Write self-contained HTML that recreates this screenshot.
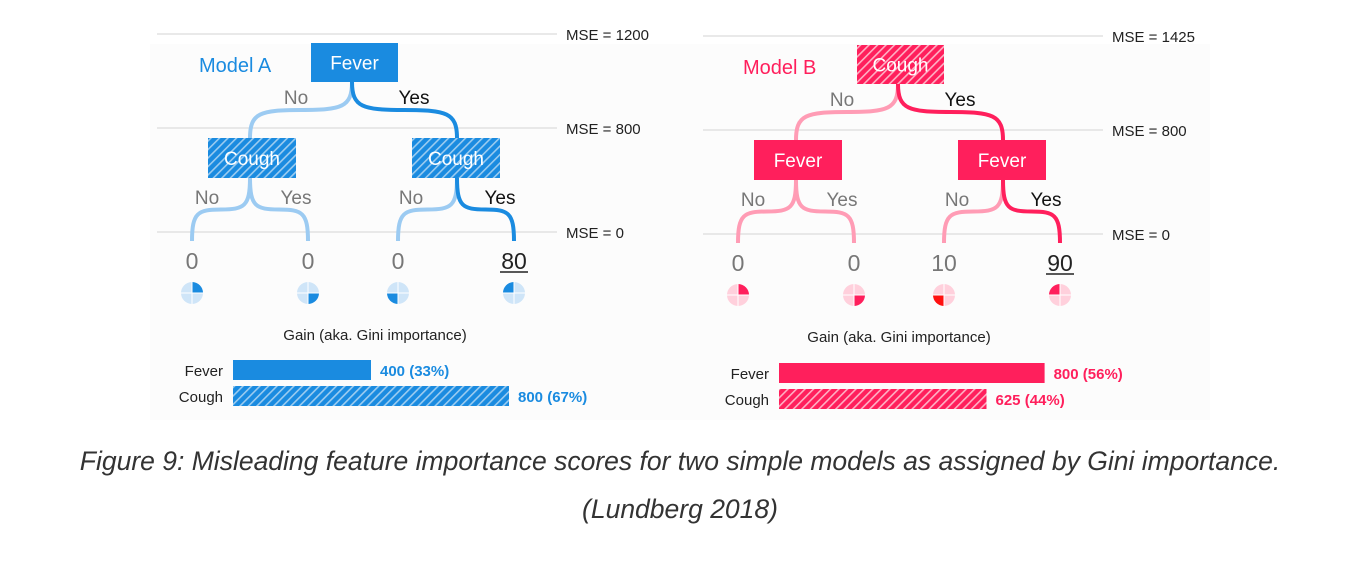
<!DOCTYPE html>
<html><head><meta charset="utf-8"><style>
html,body{margin:0;padding:0;background:#fff;}
body{width:1360px;height:564px;overflow:hidden;position:relative;font-family:"Liberation Sans",sans-serif;}
.cap{position:absolute;left:0;width:1360px;text-align:center;font-style:italic;font-size:26.5px;color:#333;}
</style></head><body>
<svg id="fig" width="1360" height="440" style="position:absolute;left:0;top:0" xmlns="http://www.w3.org/2000/svg">
<defs>
<pattern id="hatchA" patternUnits="userSpaceOnUse" width="6" height="6" patternTransform="rotate(45)"><rect width="6" height="6" fill="#1a8be0"/><rect width="1.6" height="6" fill="#9cccf0"/></pattern>
<pattern id="hatchB" patternUnits="userSpaceOnUse" width="6" height="6" patternTransform="rotate(45)"><rect width="6" height="6" fill="#ff1f5c"/><rect width="1.6" height="6" fill="#ffb0c4"/></pattern>
</defs>
<rect x="150" y="44" width="1060" height="376" fill="#fcfcfc"/>
</svg>
<div class="cap" style="top:446px">Figure 9: Misleading feature importance scores for two simple models as assigned by Gini importance.</div>
<div class="cap" style="top:494px">(Lundberg 2018)</div>
<script>
// data
const modelNames = ["Model A", "Model B"];
const mseLevelsA = [1200, 800, 0];
const mseLevelsB = [1425, 800, 0];
const rootFeature = ["Fever", "Cough"];
const childFeature = ["Cough", "Fever"];
const leafValuesA = [0, 0, 0, 80];
const leafValuesB = [0, 0, 10, 90];
const gainFeatures = ["Fever", "Cough"];
const gainValuesA = [400, 800];
const gainPctA = [33, 67];
const gainValuesB = [800, 625];
const gainPctB = [56, 44];

const NS = "http://www.w3.org/2000/svg";
const svg = document.getElementById('fig');
function mk(tag, attrs, parent){const e=document.createElementNS(NS,tag);for(const k in attrs)e.setAttribute(k,attrs[k]);(parent||svg).appendChild(e);return e;}
function txt(s, attrs, parent){const e=mk('text',attrs,parent);e.textContent=s;return e;}

const models=[
 {ox:0, name:modelNames[0], mse:mseLevelsA, leaves:leafValuesA, gains:gainValuesA, pct:gainPctA, dark:"#1a8be0", light:"#9ccbf2", pale:"#cfe5f8", hatch:"url(#hatchA)", rootHatch:false, childHatch:true, scale:0.345, strong:"#1a8be0", pieBL:"#1a8be0"},
 {ox:546, name:modelNames[1], mse:mseLevelsB, leaves:leafValuesB, gains:gainValuesB, pct:gainPctB, dark:"#ff1f5c", light:"#ff9cb5", pale:"#ffd0dc", hatch:"url(#hatchB)", rootHatch:true, childHatch:false, scale:0.332, strong:"#ff1f5c", pieBL:"#ff1010"}
];
const mseY=[34,128,232];
models.forEach((m,mi)=>{
  const g=mk('g',{transform:`translate(${m.ox},${mi?2:0})`});
  
  
  m.mse.forEach((v,i)=>{
    const l=mk('line',{x1:157,x2:557,y1:mseY[i],y2:mseY[i],stroke:"#dcdcdc","stroke-width":1.3},g);
    
    
    const t=txt('MSE = '+v,{x:566,y:mseY[i]+6,"font-size":15,fill:"#222"},g);
    
    
  });
  const mt=txt(m.name,{x:mi?197:199,y:72,"font-size":20,fill:m.dark},g);
  
  
  const rootX=352, lX=250, rX=457, leafX=[192,308,398,514];
  const edges=[
    [rootX,82,lX,138,m.light],[rootX,82,rX,138,m.dark],
    [lX,178,leafX[0],241,m.light],[lX,178,leafX[1],241,m.light],
    [rX,178,leafX[2],241,m.light],[rX,178,leafX[3],241,m.dark]];
  edges.forEach(e=>{
    const [x1,y1,x2,y2,c]=e, my=(y1+y2)/2, h=(y2-y1);
    const p=mk('path',{d:`M${x1},${y1} C${x1},${y1+h*0.45} ${x1+(x2-x1)*0.1},${my} ${(x1+x2)/2},${my} C${x2-(x2-x1)*0.1},${my} ${x2},${y2-h*0.45} ${x2},${y2}`,fill:"none",stroke:c,"stroke-width":4},g);
    
    
  });
  [[296,104,"No","#777"],[414,104,"Yes","#111"],[207,204,"No","#777"],[296,204,"Yes","#777"],[411,204,"No","#777"],[500,204,"Yes","#111"]].forEach(a=>{
    const t=txt(a[2],{x:a[0],y:a[1],"font-size":19,fill:a[3],"text-anchor":"middle"},g);
    
    
  });
  function node(x,y,w,h,label,hatch,name){
    const r=mk('rect',{x:x,y:y,width:w,height:h,fill:hatch?m.hatch:m.dark},g);
    
    
    const t=txt(label,{x:x+w/2,y:y+h/2+7,"font-size":19,fill:"#fff","text-anchor":"middle"},g);
    
    
  }
  node(311,43,87,39,rootFeature[mi],m.rootHatch,'root-node');
  node(208,138,88,40,childFeature[mi],m.childHatch,'left-child-node');
  node(412,138,88,40,childFeature[mi],m.childHatch,'right-child-node');
  const quads=[[0,-1],[0,0],[-1,0],[-1,-1]];
  m.leaves.forEach((v,i)=>{
    const t=txt(String(v),{x:leafX[i],y:269,"font-size":23,fill:i===3?"#222":"#777","text-anchor":"middle"},g);
    
    
    if(i===3){const u=mk('line',{x1:leafX[i]-14,x2:leafX[i]+14,y1:272,y2:272,stroke:"#222","stroke-width":1.5},g);
      }
    const cx=leafX[i], cy=293, r=11;
    const c=mk('circle',{cx:cx,cy:cy,r:r,fill:m.pale},g);
    
    
    const q=quads[i], sx=q[0]?-1:1, sy=q[1]?-1:1;
    const pp=mk('path',{d:`M${cx},${cy} L${cx+sx*r},${cy} A${r},${r} 0 0 ${sx*sy>0?1:0} ${cx},${cy+sy*r} Z`,fill:(mi&&i===2)?m.pieBL:m.dark},g);
    
    
    mk('line',{x1:cx-r,x2:cx+r,y1:cy,y2:cy,stroke:"#fff","stroke-width":1},g);
    mk('line',{x1:cx,x2:cx,y1:cy-r,y2:cy+r,stroke:"#fff","stroke-width":1},g);
  });
  const gt=txt('Gain (aka. Gini importance)',{x:mi?353:375,y:340,"font-size":15,fill:"#222","text-anchor":"middle"},g);
  
  
  const bx=233;
  m.gains.forEach((v,i)=>{
    const y=360+i*26+(mi?1:0);
    const lab=txt(gainFeatures[i],{x:bx-10,y:y+16,"font-size":15,fill:"#222","text-anchor":"end"},g);
    
    
    const w=v*m.scale;
    const b=mk('rect',{x:bx,y:y,width:w,height:20,fill:i===0?m.dark:m.hatch},g);
    
    
    const vl=txt(`${v} (${m.pct[i]}%)`,{x:bx+w+9,y:y+16,"font-size":15,"font-weight":"bold",fill:m.strong},g);
    
    
  });
});
</script>
</body></html>
